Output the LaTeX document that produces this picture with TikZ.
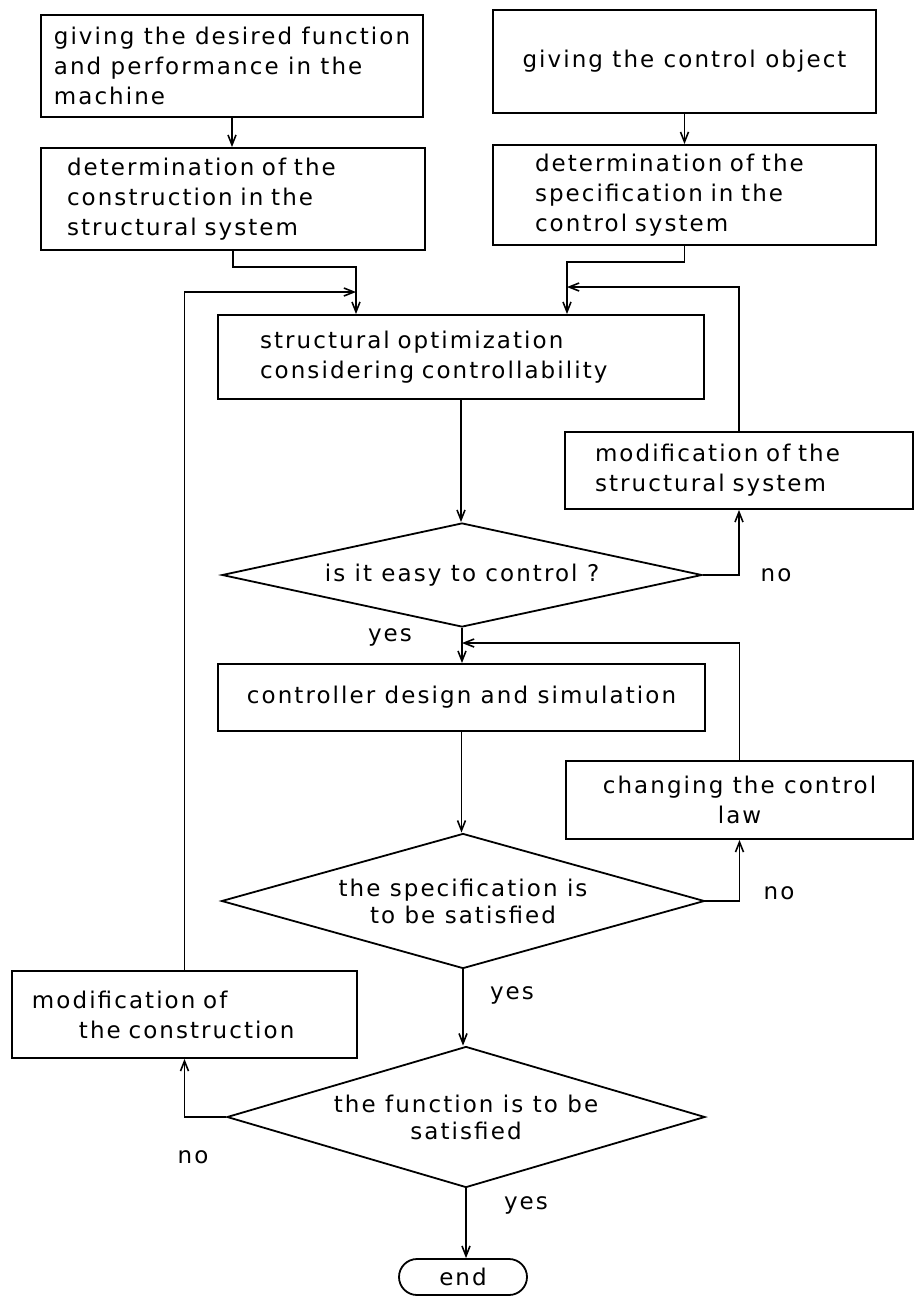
\documentclass[tikz,border=0pt]{standalone}
\usepackage{fontspec}
\setmainfont{DejaVu Sans}[LetterSpace=9]
\usetikzlibrary{arrows.meta,shapes.geometric}

\begin{document}
\begin{tikzpicture}[x=0.5pt,y=-0.5pt,
  txt/.style={font=\fontsize{11.5}{15}\selectfont},
  box/.style={txt,draw,line width=0.9pt,rectangle,inner sep=0pt},
  test/.style={draw,line width=0.9pt,diamond,inner sep=0pt,align=center,font=\fontsize{11.5}{13.5}\selectfont},
  arr/.style={line width=0.8pt,-{Straight Barb[length=5pt,width=4pt]}}]
\useasboundingbox (0,0) rectangle (917,1296);
\node[box,minimum width=191pt,minimum height=51pt,align=left] (giveFunc) at (232,66) {giving the desired function\\and performance in the\\machine};
\node[box,minimum width=191.5pt,minimum height=51.5pt] (giveObj) at (684.5,61.5) {giving the control object};
\node[box,minimum width=192pt,minimum height=51pt,text width=166pt,align=left] (detConst) at (233,199) {determination of the\\construction in the\\structural system};
\node[box,minimum width=191.5pt,minimum height=50pt,text width=149.5pt,align=left] (detSpec) at (684.5,195) {determination of the\\specification in the\\control system};
\node[box,minimum width=243pt,minimum height=42pt,text width=201pt,align=left] (optim) at (461,357) {structural optimization\\considering controllability};
\node[test,minimum width=240pt,minimum height=52pt,aspect=4.6] (easy) at (462,575) {is it easy to control ?};
\node[box,minimum width=174pt,minimum height=38.5pt,text width=144pt,align=left] (modStruct) at (739,470.5) {modification of the\\structural system};
\node[box,minimum width=243.5pt,minimum height=33.5pt] (ctrlDesign) at (461.5,697.5) {controller design and simulation};
\node[test,minimum width=241.5pt,minimum height=67.5pt,aspect=3.6] (specSat) at (463,901) {the specification is\\to be satisfied};
\node[box,minimum width=173.5pt,minimum height=39pt,align=center] (changeLaw) at (739.5,800) {changing the control\\law};
\node[test,minimum width=239pt,minimum height=70.5pt,aspect=3.4] (funcSat) at (466,1117) {the function is to be\\satisfied};
\node[box,minimum width=172.5pt,minimum height=43.5pt,text width=152.5pt,align=left] (modConst) at (184.5,1014.5) {modification of\\\hspace*{23.5pt}the construction};
\node[box,rounded corners=9pt,minimum width=64pt,minimum height=18pt] (finish) at (463,1277) {end};
\node[txt] (noEasy) at (776,575) {no};
\node[txt] (yesEasy) at (390,637) {yes};
\node[txt] (noSpec) at (779,893) {no};
\node[txt] (yesSpec) at (512,995) {yes};
\node[txt] (noFunc) at (193,1157) {no};
\node[txt] (yesFunc) at (526,1205) {yes};
\coordinate (joinL) at (356,267);
\coordinate (joinR) at (567,262);
\coordinate (backL) at (356,292);
\coordinate (backR) at (567,287);
\coordinate (backC) at (462,643);
\draw[arr] (giveFunc.south) -- (giveFunc.south |- detConst.north);
\draw[arr] (giveObj.south) -- (giveObj.south |- detSpec.north);
\draw[arr] (detConst.south) |- (joinL) -- (joinL |- optim.north);
\draw[arr] (detSpec.south) |- (joinR) -- (joinR |- optim.north);
\draw[arr] (modConst.north) |- (backL);
\draw[arr] (modStruct.north) |- (backR);
\draw[arr] (optim.south) -- (optim.south |- easy.north);
\draw[arr] (easy.east) -| (modStruct.south);
\draw[arr] (easy.south) -- (easy.south |- ctrlDesign.north);
\draw[arr] (changeLaw.north) |- (backC);
\draw[arr] (ctrlDesign.south) -- (ctrlDesign.south |- specSat.north);
\draw[arr] (specSat.east) -| (changeLaw.south);
\draw[arr] (specSat.south) -- (specSat.south |- funcSat.north);
\draw[arr] (funcSat.west) -| (modConst.south);
\draw[arr] (funcSat.south) -- (funcSat.south |- finish.north);
\end{tikzpicture}
\end{document}
